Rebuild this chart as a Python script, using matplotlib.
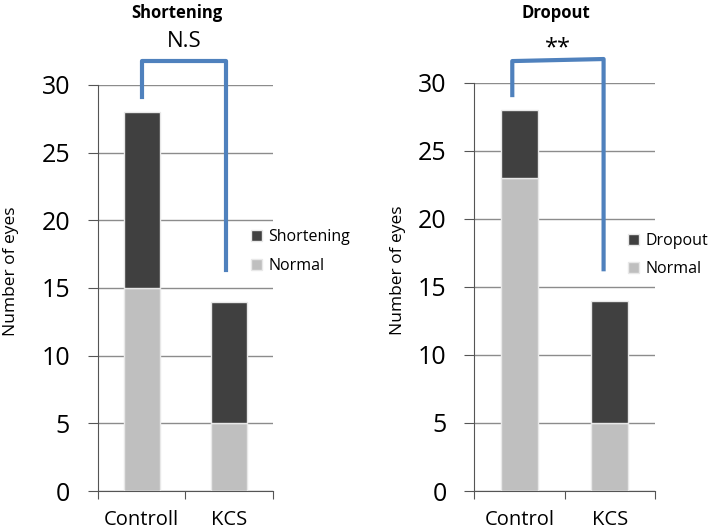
import numpy as np
import matplotlib.pyplot as plt

plt.rcParams['font.family'] = ['Open Sans', 'DejaVu Sans']

# data
groups_left = ["Controll", "KCS"]
groups_right = ["Control", "KCS"]
short_normal = [15, 5]
short_short = [13, 9]
drop_normal = [23, 5]
drop_drop = [5, 9]
yticks = [0, 5, 10, 15, 20, 25, 30]

dark = "#404040"
light = "#bfbfbf"
blue = "#4f81bd"

fig = plt.figure(figsize=(7.09, 5.31), dpi=100)
ax1 = fig.add_axes([0.138, 0.0753, 0.247, 0.7647])
ax2 = fig.add_axes([0.669, 0.0753, 0.255, 0.7687])


def panel(ax, labels, normal, other, other_name, sig, br, leg_pos, sig_size, sig_off):
    x = np.arange(len(labels)) + 0.5
    ax.bar(x, normal, width=0.41, color=light, edgecolor="#e8e8e8", linewidth=1, label="Normal", zorder=3)
    ax.bar(x, other, bottom=normal, width=0.41, color=dark, edgecolor="#e8e8e8", linewidth=1, label=other_name, zorder=3)
    ax.set_xlim(0, 2)
    ax.set_ylim(0, 30)
    ax.set_yticks(yticks)
    ax.set_xticks([0, 1, 2])
    ax.set_xticklabels([])
    for xi, lab in zip(x, labels):
        ax.text(xi, -2.15, lab, ha="center", va="center", fontsize=14.5)
    ax.tick_params(axis="y", labelsize=18, length=7, pad=13, color="#555555")
    ax.tick_params(axis="x", length=6, color="#555555")
    ax.yaxis.grid(True, color="#8c8c8c", linewidth=1, zorder=0)
    for s in ["top", "right"]:
        ax.spines[s].set_visible(False)
    for s in ["left", "bottom"]:
        ax.spines[s].set_color("#555555")
    ax.set_ylabel("Number of eyes", fontsize=12.5)
    h, l = ax.get_legend_handles_labels()
    ax.legend(h[::-1], l[::-1], loc="center left", bbox_to_anchor=leg_pos, frameon=False,
              fontsize=11.5, handlelength=0.7, handleheight=0.7, handletextpad=0.4, labelspacing=0.8)
    # significance bracket
    bx0, bx1, yb0, ytop0, ytop1, yb1 = br
    ax.plot([bx0, bx0, bx1, bx1], [yb0, ytop0, ytop1, yb1], color=blue, linewidth=3,
            clip_on=False, solid_joinstyle="round", zorder=4)
    ax.text((bx0 + bx1) / 2, ytop0 + sig_off, sig, ha="center", va="center", fontsize=sig_size)


panel(ax1, groups_left, short_normal, short_short, "Shortening", "N.S",
      (0.51, 1.46, 29.1, 31.8, 31.8, 16.3), (0.79, 0.59), 16, 1.4)
panel(ax2, groups_right, drop_normal, drop_drop, "Dropout", "**",
      (0.42, 1.43, 29.1, 31.6, 31.75, 16.3), (0.77, 0.578), 17, 0.9)
ax1.yaxis.set_label_coords(-0.45, 0.54)
ax2.yaxis.set_label_coords(-0.38, 0.54)

fig.text(177 / 709, 1 - 13 / 531, "Shortening", ha="center", va="center", fontsize=12, fontweight="bold")
fig.text(556 / 709, 1 - 13 / 531, "Dropout", ha="center", va="center", fontsize=12, fontweight="bold")

fig.savefig("out.png", dpi=100)
